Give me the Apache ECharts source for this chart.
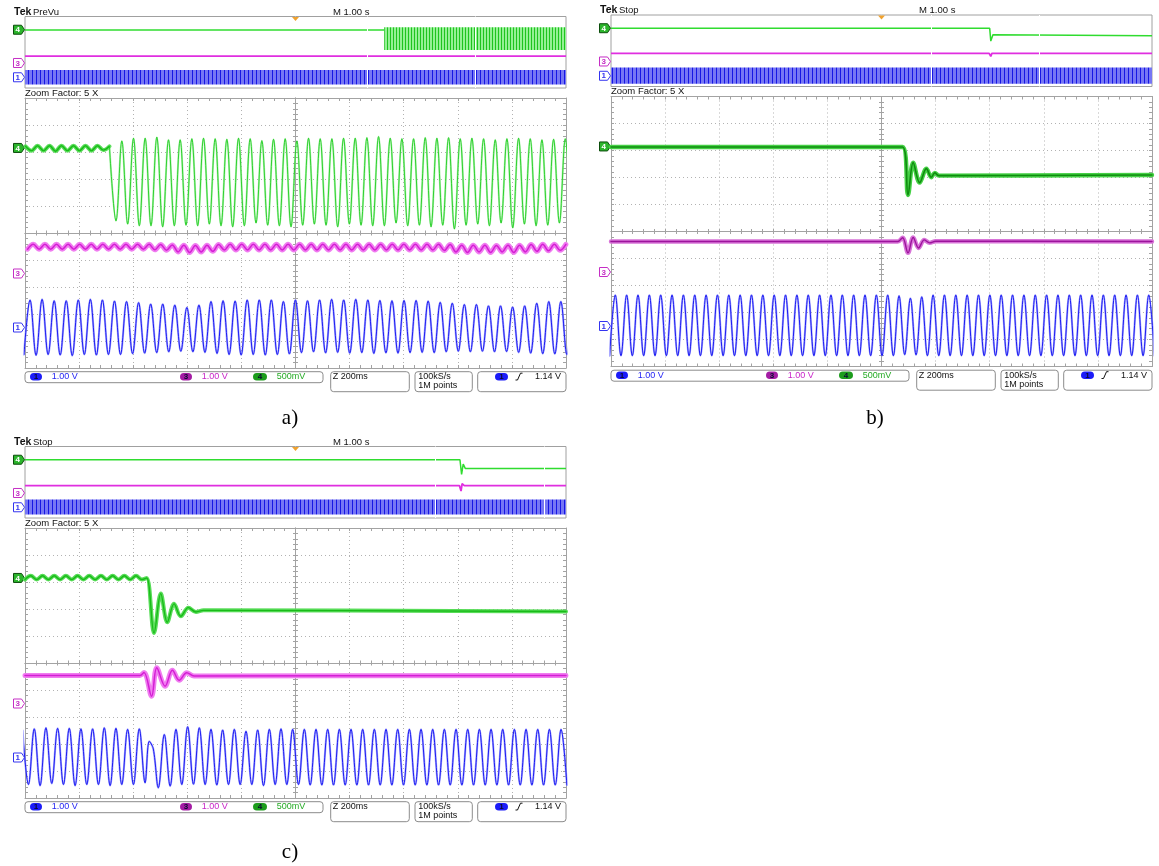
<!DOCTYPE html>
<html>
<head>
<meta charset="utf-8">
<script src="https://cdn.jsdelivr.net/npm/echarts@6/dist/echarts.min.js"></script>
<style>
  html, body { margin: 0; padding: 0; background: #fff; }
  #scope { width: 1159px; height: 866px; }
</style>
</head>
<body>
<div id="scope"></div>
<script>
// ---- Probe settings: volts per division and trace position (divisions from screen centre)
const CH1 = { pos: -3.5, vdiv: 1.0 };
const CH3 = { pos: -1.5, vdiv: 1.0 };
const CH4 = { pos: 3.15, vdiv: 0.5 };

// ---- Panel a) : zoom window traces, time in ms from the left edge of the 2 s zoom window
// ch4 ripple before the switch (V), one extreme every half cycle
const a_ch4Ripple = [0.03, -0.05, 0.04, -0.05, 0.04, -0.06, 0.04, -0.05, 0.04, -0.05, 0.04, -0.05, 0.04, -0.04, 0.03];
const a_ch4RippleStart = 2, a_ch4RippleHalf = 22.15;
// ch4 oscillation after the switch (V)
const a_ch4Troughs = [-1.35, -1.41, -1.44, -1.44, -1.46, -1.44, -1.43, -1.44, -1.41, -1.44, -1.46, -1.44, -1.39, -1.43, -1.44, -1.46,
  -1.43, -1.41, -1.43, -1.46, -1.41, -1.43, -1.44, -1.44, -1.39, -1.44, -1.43, -1.46, -1.43, -1.5, -1.43, -1.41, -1.44, -1.39, -1.48,
  -1.41, -1.44, -1.43, -1.39, -1.42];
const a_ch4Peaks = [0.13, 0.18, 0.18, 0.2, 0.15, 0.15, 0.17, 0.18, 0.17, 0.16, 0.18, 0.17, 0.135, 0.16, 0.17,
  0.13, 0.18, 0.17, 0.17, 0.18, 0.18, 0.19, 0.21, 0.18, 0.17, 0.17, 0.19, 0.18, 0.19, 0.17, 0.18, 0.17, 0.15, 0.17, 0.18,
  0.17, 0.15, 0.16, 0.17];
const a_ch4OscStart = 336.4, a_ch4OscHalf = 21.57;
// ch3 ripple (V)
const a_ch3Troughs = [0.9, 0.9, 0.9, 0.9, 0.9, 0.9, 0.9, 0.9, 0.9, 0.9, 0.9, 0.88, 0.86,
  0.8, 0.78, 0.8, 0.82,
  0.87, 0.87, 0.87, 0.87, 0.87, 0.87, 0.87, 0.87, 0.87, 0.87, 0.87, 0.87, 0.87, 0.87, 0.87, 0.87, 0.87, 0.87, 0.87, 0.85,
  0.8, 0.78, 0.8, 0.78, 0.8, 0.78, 0.8, 0.82, 0.84,
  0.86];
const a_ch3Peaks = [1.08, 1.08, 1.08, 1.08, 1.08, 1.08, 1.08, 1.08, 1.08, 1.08, 1.08, 1.07, 1.06,
  1.05, 1.04, 1.05, 1.07,
  1.08, 1.08, 1.08, 1.08, 1.08, 1.08, 1.08, 1.08, 1.08, 1.08, 1.08, 1.08, 1.08, 1.08, 1.08, 1.08, 1.08, 1.08, 1.08, 1.07,
  1.05, 1.05, 1.05, 1.04, 1.05, 1.05, 1.07, 1.08, 1.08,
  1.08];
const a_ch3Start = 9.4, a_ch3Half = 21.4;
// ch1 sine (V)
const a_ch1Troughs = [-1.0, -1.03, -1.0, -1.02, -1.04, -1.0, -1.02, -1.0, -1.0, -0.97, -0.95, -0.93,
  -0.9, -0.88, -0.9, -0.92, -0.96, -1.0,
  -1.02, -1.0, -1.02, -1.0, -0.98,
  -0.93, -0.9, -0.94, -0.92, -0.95, -0.93, -0.96, -0.94, -0.95, -0.93, -0.92, -0.93, -0.9, -0.88, -0.9, -0.88, -0.9, -0.89,
  -0.92, -0.95, -0.97, -0.98, -1.0];
const a_ch1Peaks = [1.02, 1.04, 0.99, 0.99, 1.02, 1.04, 1.02, 0.98, 0.96, 0.92,
  0.87, 0.87, 0.83, 0.74, 0.83, 0.96, 0.99, 0.98, 1.02, 1.02,
  1.02, 0.96, 1.02, 0.99, 1.02, 1.04, 1.02, 1.04, 1.02, 1.0,
  0.99, 1.0, 1.0, 0.98, 0.93, 0.9, 0.85, 0.85, 0.8, 0.8,
  0.76, 0.8, 0.9, 0.96, 0.96, 1.0];
const a_ch1Start = -3.7, a_ch1Half = 22.3;

// ---- Panel b) : zoom window traces
const b_ch4 = [[0, -0.01], [1078, -0.01], [1098, -0.9], [1117, -0.3], [1141, -0.67], [1166, -0.41], [1184, -0.57],
  [1197, -0.49], [1212, -0.54], [2000, -0.53]];
const b_ch3 = [[0, 1.13], [1060, 1.13], [1078, 1.27], [1098, 0.71], [1117, 1.28], [1137, 0.89], [1158, 1.19],
  [1178, 1.08], [1200, 1.14], [2000, 1.13]];
const b_ch1Troughs = [-1.1, -1.1, -1.1, -1.1, -1.1, -1.1, -1.1, -1.1, -1.1, -1.1, -1.1, -1.1, -1.1,
  -1.1, -1.1, -1.1, -1.1, -1.1, -1.1, -1.1, -1.1, -1.1, -1.1, -1.1, -1.1, -1.1,
  -1.06, -1.07,
  -1.1, -1.1, -1.1, -1.1, -1.1, -1.1, -1.1, -1.1, -1.1, -1.1, -1.1,
  -1.1, -1.1, -1.1, -1.1, -1.1, -1.1, -1.1, -1.1, -1.1, -1.1];
const b_ch1Peaks = [1.15, 1.15, 1.15, 1.15, 1.15, 1.15, 1.15, 1.15, 1.15, 1.15, 1.15, 1.15, 1.15,
  1.15, 1.15, 1.15, 1.15, 1.15, 1.15, 1.15, 1.15, 1.15, 1.15, 1.15, 1.15,
  1.12, 1.03, 1.08,
  1.15, 1.15, 1.15, 1.15, 1.15, 1.15, 1.15, 1.15, 1.15, 1.15,
  1.15, 1.15, 1.15, 1.15, 1.15, 1.15, 1.15, 1.15, 1.15, 1.15];
const b_ch1Start = -5.1, b_ch1Half = 20.98;

// ---- Panel c) : zoom window traces
const c_ch4Ripple = [-0.03, 0.04, -0.03, 0.04, -0.03, 0.04, -0.03, 0.04, -0.03, 0.04, -0.03,
  0.04, -0.03, 0.04, -0.03, 0.04, -0.03, 0.04, -0.03, 0.04, -0.03];
const c_ch4RippleStart = 0, c_ch4RippleHalf = 21.6;
const c_ch4Step = [[450, 0.0], [477, -1.02], [502, -0.29], [526, -0.82], [551, -0.48], [576, -0.71],
  [604, -0.55], [632, -0.63], [660, -0.6], [2000, -0.62]];
const c_ch3 = [[0, 1.04], [425, 1.04], [440, 1.15], [468, 0.27], [487, 1.32], [518, 0.64], [545, 1.23],
  [570, 0.86], [598, 1.14], [625, 1.02], [2000, 1.04]];
const c_ch1LeadPeaks = [1.0, 1.06, 1.1, 1.08, 1.08, 1.06, 1.06, 1.1, 1.08, 1.04, 1.06];
const c_ch1LeadTroughs = [-1.0, -1.04, -0.96, -1.0, -1.04, -1.0, -1.0, -1.04, -1.0, -1.0, -0.94];
const c_ch1LeadStart = -8.9, c_ch1LeadHalf = 21.57;
const c_ch1Glitch = [[459.5, 0.6], [474.3, 0.32], [492.8, -1.12]];
const c_ch1TailPeaks = [0.85, 1.04, 1.14, 1.1, 1.04, 1.02, 1.04, 0.97, 1.02, 1.04, 1.06, 1.04, 1.04,
  1.04, 1.04, 1.04, 1.04, 1.04, 1.04, 1.04, 1.04, 1.04, 1.04, 1.04,
  1.04, 1.04, 1.04, 1.04, 1.04, 1.04, 1.04, 1.04, 1.04, 1.04, 1.04];
const c_ch1TailTroughs = [-1.06, -1.0, -0.99, -1.0, -1.02, -1.0, -1.0, -1.0, -1.04, -1.0, -1.0, -1.0,
  -1.02, -1.02, -1.02, -1.02, -1.02, -1.02, -1.02, -1.02, -1.02, -1.02, -1.02,
  -1.02, -1.02, -1.02, -1.02, -1.02, -1.02, -1.02, -1.02, -1.02, -1.02, -1.02, -1.02];
const c_ch1TailStart = 515, c_ch1TailHalf = 21.57;

// ---- Main (10 s) window traces: lines [s, V], bands [s0, s1, Vlow, Vhigh], zoom window [s0, s1]
const a_ovCh4 = [[0, -0.02], [6.64, -0.02]];
const a_ovCh4Band = [[6.64, 10, -1.41, 0.18]];
const a_ovCh3 = [[0, 0.95], [10, 0.95]];
const a_ovCh1Band = [[0, 10, -1.0, 1.02]];
const a_zoomWin = [6.33, 8.33];

const b_ovCh4 = [[0, -0.01], [7.0, -0.01], [7.02, -0.9], [7.06, -0.45], [10, -0.53]];
const b_ovCh3 = [[0, 1.13], [6.99, 1.13], [7.0, 1.3], [7.02, 0.71], [7.04, 1.13], [10, 1.13]];
const b_ovCh1Band = [[0, 10, -1.1, 1.15]];
const b_zoomWin = [5.92, 7.92];

const c_ovCh4 = [[0, 0.0], [8.04, 0.0], [8.07, -1.02], [8.1, -0.3], [8.14, -0.62], [10, -0.62]];
const c_ovCh3 = [[0, 1.04], [8.03, 1.04], [8.06, 0.27], [8.08, 1.32], [8.12, 1.04], [10, 1.04]];
const c_ovCh1Band = [[0, 10, -1.0, 1.1]];
const c_zoomWin = [7.59, 9.59];

// ---- Helpers
function wave(start, half, vals) { return vals.map((v, i) => [start + i * half, v]); }
function alternate(first, second) {
  const out = [];
  for (let i = 0; i < first.length; i++) {
    out.push(first[i]);
    if (i < second.length) out.push(second[i]);
  }
  return out;
}
function toDiv(pts, ch) { return pts.map(p => [p[0], ch.pos + p[1] / ch.vdiv]); }

// ---- Look
const FONT = "'Liberation Sans', Arial, sans-serif";
const GRID_LINE = '#a3a3a3';
const GRID_DOT = '#b2b2b2';
const STYLES = {
  gBand: [['#58dc58', 4.0], ['#19bb19', 1.4]],
  gDark: [['#45d045', 4.4], ['#0f8c0f', 1.6]],
  gThin: [['rgba(140,240,140,0.7)', 2.0], ['#22cc22', 0.9]],
  mBand: [['#f07cf0', 5.0], ['#d41ed4', 1.5]],
  mDark: [['#d874d8', 4.4], ['#9c149c', 1.4]],
  bWave: [['rgba(140,140,255,0.75)', 2.1], ['#1d1df2', 1.0]]
};
function stripes(dark, light, period) {
  const c = document.createElement('canvas');
  c.width = period; c.height = 2;
  const g = c.getContext('2d');
  g.fillStyle = light; g.fillRect(0, 0, period, 2);
  g.fillStyle = dark; g.fillRect(0, 0, 1, 2);
  return { image: c, repeat: 'repeat' };
}
const BLUE_FILL = stripes('#1616e4', '#7676f4', 4);
const GREEN_FILL = stripes('#1fc41f', '#95f095', 3);

// ---- Screen layout
const PANELS = [
  { dx: 0, dy: 0, mode: 'PreVu', label: 'a)', lx: 290, ly: 418 },
  { dx: 586, dy: -1.5, mode: 'Stop', label: 'b)', lx: 875, ly: 418 },
  { dx: 0, dy: 430, mode: 'Stop', label: 'c)', lx: 290, ly: 852 }
];
const OV = { left: 25, top: 16.5, width: 541, height: 71.5 };
const ZM = { left: 25, top: 98, width: 541, height: 270 };

const aPre = wave(a_ch4RippleStart, a_ch4RippleHalf, a_ch4Ripple);
const TRACE_SETS = [
  {
    ov4: a_ovCh4, ov4Band: a_ovCh4Band, ov3: a_ovCh3, ov1Band: a_ovCh1Band, win: a_zoomWin,
    zoom: [
      { pts: aPre, ch: CH4, st: 'gBand' },
      { pts: [aPre[aPre.length - 1]].concat(wave(a_ch4OscStart, a_ch4OscHalf, alternate(a_ch4Troughs, a_ch4Peaks))), ch: CH4, st: 'gThin' },
      { pts: wave(a_ch3Start, a_ch3Half, alternate(a_ch3Troughs, a_ch3Peaks)), ch: CH3, st: 'mBand' },
      { pts: wave(a_ch1Start, a_ch1Half, alternate(a_ch1Troughs, a_ch1Peaks)), ch: CH1, st: 'bWave' }
    ]
  },
  {
    ov4: b_ovCh4, ov4Band: [], ov3: b_ovCh3, ov1Band: b_ovCh1Band, win: b_zoomWin,
    zoom: [
      { pts: b_ch4, ch: CH4, st: 'gDark' },
      { pts: b_ch3, ch: CH3, st: 'mDark' },
      { pts: wave(b_ch1Start, b_ch1Half, alternate(b_ch1Troughs, b_ch1Peaks)), ch: CH1, st: 'bWave' }
    ]
  },
  {
    ov4: c_ovCh4, ov4Band: [], ov3: c_ovCh3, ov1Band: c_ovCh1Band, win: c_zoomWin,
    zoom: [
      { pts: wave(c_ch4RippleStart, c_ch4RippleHalf, c_ch4Ripple).concat(c_ch4Step), ch: CH4, st: 'gBand' },
      { pts: c_ch3, ch: CH3, st: 'mBand' },
      { pts: wave(c_ch1LeadStart, c_ch1LeadHalf, alternate(c_ch1LeadPeaks, c_ch1LeadTroughs))
          .concat(c_ch1Glitch)
          .concat(wave(c_ch1TailStart, c_ch1TailHalf, alternate(c_ch1TailPeaks, c_ch1TailTroughs))), ch: CH1, st: 'bWave' }
    ]
  }
];

// ---- Axes: graticule of the zoom window (border ticks, dotted divisions, centre cross)
function gratAxis(dim, grid, position, offset, inside, withSplit, tickLen) {
  const isX = dim === 'x';
  return {
    type: 'value', gridIndex: grid, position: position, offset: offset,
    min: isX ? 0 : -5, max: isX ? 2000 : 5, interval: isX ? 200 : 1,
    axisLine: { show: true, onZero: false, lineStyle: { color: GRID_LINE, width: 1 } },
    axisTick: { show: true, inside: inside, length: tickLen, lineStyle: { color: GRID_LINE, width: 1 } },
    minorTick: { show: true, splitNumber: 5, length: tickLen, lineStyle: { color: GRID_LINE, width: 1 } },
    axisLabel: { show: false },
    splitLine: { show: withSplit, lineStyle: { color: GRID_DOT, width: 1, type: [1, 3] } },
    minorSplitLine: { show: false },
    silent: true
  };
}

const grids = [], xAxes = [], yAxes = [], series = [], graphics = [];

PANELS.forEach((P, p) => {
  const T = TRACE_SETS[p];
  const gOv = grids.length;
  grids.push({ left: OV.left + P.dx, top: OV.top + P.dy, width: OV.width, height: OV.height,
    show: true, borderColor: '#a0a0a0', borderWidth: 1, backgroundColor: 'transparent',
    containLabel: false, outerBoundsMode: 'none' });
  const gZm = grids.length;
  grids.push({ left: ZM.left + P.dx, top: ZM.top + P.dy, width: ZM.width, height: ZM.height,
    show: false, containLabel: false, outerBoundsMode: 'none' });

  const xOv = xAxes.length;
  xAxes.push({ type: 'value', gridIndex: gOv, min: 0, max: 10, show: false, axisLine: { onZero: false } });
  const yOv = yAxes.length;
  yAxes.push({ type: 'value', gridIndex: gOv, min: -5, max: 5, show: false, axisLine: { onZero: false } });

  const xZm = xAxes.length;
  xAxes.push(gratAxis('x', gZm, 'bottom', 0, true, true, 3));
  xAxes.push(gratAxis('x', gZm, 'top', 0, true, false, 3));
  xAxes.push(gratAxis('x', gZm, 'bottom', -ZM.height / 2, true, false, 2.5));
  xAxes.push(gratAxis('x', gZm, 'bottom', -ZM.height / 2, false, false, 2.5));
  const yZm = yAxes.length;
  yAxes.push(gratAxis('y', gZm, 'left', 0, true, true, 3));
  yAxes.push(gratAxis('y', gZm, 'right', 0, true, false, 3));
  yAxes.push(gratAxis('y', gZm, 'left', -ZM.width / 2, true, false, 2.5));
  yAxes.push(gratAxis('y', gZm, 'left', -ZM.width / 2, false, false, 2.5));

  // main window: striped envelopes for the dense waveforms
  const band = (segs, ch, fill) => ({
    type: 'custom', xAxisIndex: xOv, yAxisIndex: yOv, silent: true, z: 2, animation: false,
    data: segs.map(s => [s[0], s[1], ch.pos + s[2] / ch.vdiv, ch.pos + s[3] / ch.vdiv]),
    encode: { x: [0, 1], y: [2, 3] },
    renderItem: function (params, api) {
      const p0 = api.coord([api.value(0), api.value(3)]);
      const p1 = api.coord([api.value(1), api.value(2)]);
      return { type: 'rect', shape: { x: p0[0], y: p0[1], width: p1[0] - p0[0], height: p1[1] - p0[1] },
        style: { fill: fill } };
    }
  });
  series.push(band(T.ov1Band, CH1, BLUE_FILL));
  if (T.ov4Band.length) series.push(band(T.ov4Band, CH4, GREEN_FILL));
  series.push({ type: 'line', xAxisIndex: xOv, yAxisIndex: yOv, data: toDiv(T.ov4, CH4), symbol: 'none',
    lineStyle: { color: '#2fdc2f', width: 1.5 }, silent: true, z: 3, animation: false });
  series.push({ type: 'line', xAxisIndex: xOv, yAxisIndex: yOv, data: toDiv(T.ov3, CH3), symbol: 'none',
    lineStyle: { color: '#e02ee0', width: 1.8 }, silent: true, z: 3, animation: false,
    markLine: { silent: true, symbol: 'none', animation: false, label: { show: false },
      lineStyle: { color: '#ffffff', width: 1, type: 'solid' },
      data: [{ xAxis: T.win[0] }, { xAxis: T.win[1] }] } });

  // zoom window traces: wide soft stroke under a thin saturated one
  T.zoom.forEach(tr => {
    const data = toDiv(tr.pts, tr.ch);
    STYLES[tr.st].forEach((ls, k) => {
      series.push({ type: 'line', xAxisIndex: xZm, yAxisIndex: yZm, data: data, symbol: 'none',
        smooth: 0.36, silent: true, z: 3 + k, animation: false,
        lineStyle: { color: ls[0], width: ls[1], cap: 'round', join: 'round' } });
    });
  });

  // ---- Screen annotations
  const dx = P.dx, dy = P.dy;
  const txt = (x, y, text, fill, size, extra) => Object.assign({
    type: 'text', x: x, y: y, silent: true,
    style: { text: text, fill: fill, font: (size || 9) + 'px ' + FONT, align: 'left', verticalAlign: 'middle' }
  }, extra || {});
  graphics.push({ type: 'text', x: 14 + dx, y: 12 + dy, silent: true,
    style: { text: 'Tek', fill: '#111', font: 'bold 10.5px ' + FONT, align: 'left', verticalAlign: 'middle' } });
  graphics.push(txt(33 + dx, 12 + dy, P.mode, '#111', 9.5));
  graphics.push(txt(333 + dx, 12 + dy, 'M 1.00 s', '#111', 9.5));
  graphics.push(txt(25 + dx, 93.3 + dy, 'Zoom Factor: 5 X', '#111', 9.5));

  const cx = OV.left + OV.width / 2 + dx, ot = OV.top + dy;
  graphics.push({ type: 'polygon', silent: true,
    shape: { points: [[cx - 3.5, ot + 0.5], [cx + 3.5, ot + 0.5], [cx, ot + 4.5]] },
    style: { fill: '#f0a22e' } });

  const marker = (x, y, num, color, filled) => ({
    type: 'group', silent: true, children: [
      { type: 'polygon', shape: { points: [[x - 11, y - 4.5], [x - 3, y - 4.5], [x, y], [x - 3, y + 4.5], [x - 11, y + 4.5]] },
        style: { fill: filled ? color : '#ffffff', stroke: filled ? '#0b4d0b' : color, lineWidth: 1 } },
      { type: 'text', x: x - 6.8, y: y + 0.5,
        style: { text: num, fill: filled ? '#ffffff' : color, font: 'bold 8px ' + FONT, align: 'center', verticalAlign: 'middle' } }
    ]
  });
  const chans = [[CH4, '4', '#2cb52c', true], [CH3, '3', '#c52ec5', false], [CH1, '1', '#3434f0', false]];
  chans.forEach(c => {
    const yo = OV.top + dy + (5 - c[0].pos) * OV.height / 10;
    const yz = ZM.top + dy + (5 - c[0].pos) * ZM.height / 10;
    graphics.push(marker(24.5 + dx, yo, c[1], c[2], c[3]));
    graphics.push(marker(24.5 + dx, yz, c[1], c[2], c[3]));
  });

  // status bar
  const sy = 371.7 + dy;
  const box = (x, w, h) => ({ type: 'rect', silent: true, shape: { x: x + dx, y: sy, width: w, height: h, r: 3 },
    style: { fill: 'none', stroke: '#8c8c8c', lineWidth: 1 } });
  graphics.push(box(25, 298, 11));
  graphics.push(box(330.7, 78.6, 20));
  graphics.push(box(415, 57.3, 20));
  graphics.push(box(477.7, 88.3, 20));
  const pill = (x, w, fill, num) => ({
    type: 'group', silent: true, children: [
      { type: 'rect', shape: { x: x + dx, y: sy + 1.3, width: w, height: 7.6, r: 3.8 }, style: { fill: fill } },
      { type: 'text', x: x + dx + w / 2, y: sy + 5.3,
        style: { text: num, fill: '#0a0a30', font: 'bold 8px ' + FONT, align: 'center', verticalAlign: 'middle' } }
    ]
  });
  graphics.push(pill(30, 12, '#1c1cf8', '1'));
  graphics.push(pill(180, 12, '#a41ca4', '3'));
  graphics.push(pill(253, 14, '#1c9c1c', '4'));
  graphics.push(pill(495, 13, '#1c1cf8', '1'));
  const ty = sy + 5;
  graphics.push(txt(51.7 + dx, ty, '1.00 V', '#2424f4', 9));
  graphics.push(txt(201.7 + dx, ty, '1.00 V', '#c824c8', 9));
  graphics.push(txt(276.7 + dx, ty, '500mV', '#24aa24', 9));
  graphics.push(txt(332.7 + dx, ty, 'Z 200ms', '#111', 9));
  graphics.push(txt(418.3 + dx, ty, '100kS/s', '#111', 9));
  graphics.push(txt(418.3 + dx, ty + 9.3, '1M points', '#111', 9));
  graphics.push(txt(535 + dx, ty, '1.14 V', '#111', 9));
  graphics.push({ type: 'polyline', silent: true,
    shape: { points: [[515.5 + dx, sy + 8.3], [517.5 + dx, sy + 8.3], [520.5 + dx, sy + 1.5], [522.5 + dx, sy + 1.5]] },
    style: { stroke: '#111', lineWidth: 1, fill: 'none' } });

  // panel caption
  graphics.push({ type: 'text', x: P.lx, y: P.ly, silent: true,
    style: { text: P.label, fill: '#000', font: '21px "Liberation Serif", "Times New Roman", serif',
      align: 'center', verticalAlign: 'middle' } });
});

const chart = echarts.init(document.getElementById('scope'), null, { renderer: 'canvas' });
chart.setOption({
  animation: false,
  backgroundColor: '#ffffff',
  grid: grids,
  xAxis: xAxes,
  yAxis: yAxes,
  series: series,
  graphic: { elements: graphics }
});
</script>
</body>
</html>
